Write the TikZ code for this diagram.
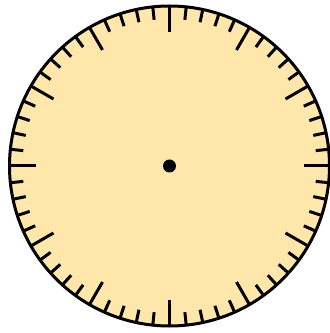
\documentclass[tikz,border=0pt]{standalone}
\usetikzlibrary{calc}
\begin{document}
\begin{tikzpicture}[x=1pt,y=1pt,
  face/.style={draw=black,line width=3pt,fill={rgb,255:red,255;green,230;blue,170}},
  tick/.style={line width=3pt,line cap=butt}]
\useasboundingbox (0,0) rectangle (330,333);
\coordinate (c) at (169.5,167);
\node[circle,minimum size=320pt,inner sep=0pt,face] (dial) at (c) {};
\foreach \i in {0,...,59}{
  \pgfmathsetmacro{\len}{mod(\i,5)==0 ? 26 : 13}
  \draw[tick] ($(c)+(\i*6:160)$) -- ($(c)+(\i*6:160-\len)$);
}
\node[circle,fill=black,minimum size=13pt,inner sep=0pt] (hub) at (c) {};
\end{tikzpicture}
\end{document}
